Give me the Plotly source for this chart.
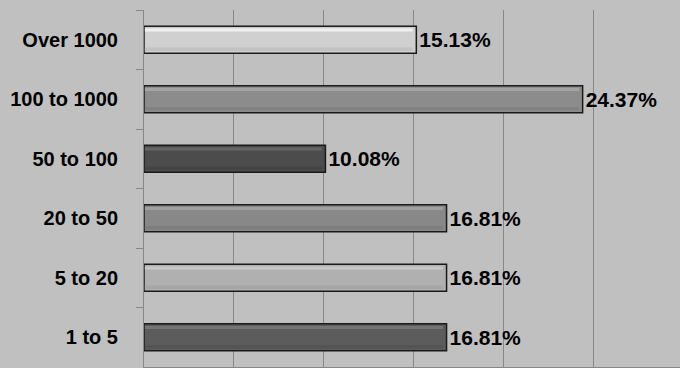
import plotly.graph_objects as go

categories = ["Over 1000", "100 to 1000", "50 to 100", "20 to 50", "5 to 20", "1 to 5"]
values = [15.13, 24.37, 10.08, 16.81, 16.81, 16.81]
labels = ["15.13%", "24.37%", "10.08%", "16.81%", "16.81%", "16.81%"]
bar_colors = ["#d0d0d0", "#8c8c8c", "#4c4c4c", "#888888", "#b0b0b0", "#5c5c5c"]
highlight_colors = ["#f0f0f0", "#a4a4a4", "#666666", "#a0a0a0", "#c8c8c8", "#747474"]
shade_colors = ["#c2c2c2", "#828282", "#444444", "#7e7e7e", "#a6a6a6", "#545454"]

FONT = "Liberation Sans"

fig = go.Figure()
fig.add_trace(go.Bar(
    y=categories, x=values, orientation="h", width=0.45,
    marker=dict(color=bar_colors, line=dict(color="#1a1a1a", width=1.5)),
    text=labels, textposition="outside", cliponaxis=False,
    textfont=dict(family=FONT, size=21, color="#000000", weight="bold"),
    hoverinfo="skip", showlegend=False,
))
# top highlight strip of the bevel
fig.add_trace(go.Bar(
    y=categories, x=[v - 0.25 for v in values], orientation="h",
    width=0.05, offset=-0.19, base=0.05,
    marker=dict(color=highlight_colors, line=dict(width=0)),
    hoverinfo="skip", showlegend=False,
))
# bottom shade strip of the bevel
fig.add_trace(go.Bar(
    y=categories, x=[v - 0.25 for v in values], orientation="h",
    width=0.06, offset=0.13, base=0.05,
    marker=dict(color=shade_colors, line=dict(width=0)),
    hoverinfo="skip", showlegend=False,
))

fig.update_layout(
    width=680, height=368,
    margin=dict(l=144, r=0, t=10, b=1),
    paper_bgcolor="#c0c0c0", plot_bgcolor="#c0c0c0",
    barmode="overlay", bargap=0.5,
    xaxis=dict(range=[0, 29.78], dtick=5, showgrid=True, gridcolor="#888888",
               gridwidth=1, showticklabels=False, zeroline=False,
               showline=True, linecolor="#888888", linewidth=1, ticks=""),
    yaxis=dict(autorange="reversed", tickson="boundaries", ticks="outside",
               ticklen=7, tickcolor="#888888", showline=True, linecolor="#888888",
               linewidth=1, showgrid=False, ticklabelstandoff=21,
               tickfont=dict(family=FONT, size=20, color="#000000", weight="bold")),
)

fig.write_html("out.html")
